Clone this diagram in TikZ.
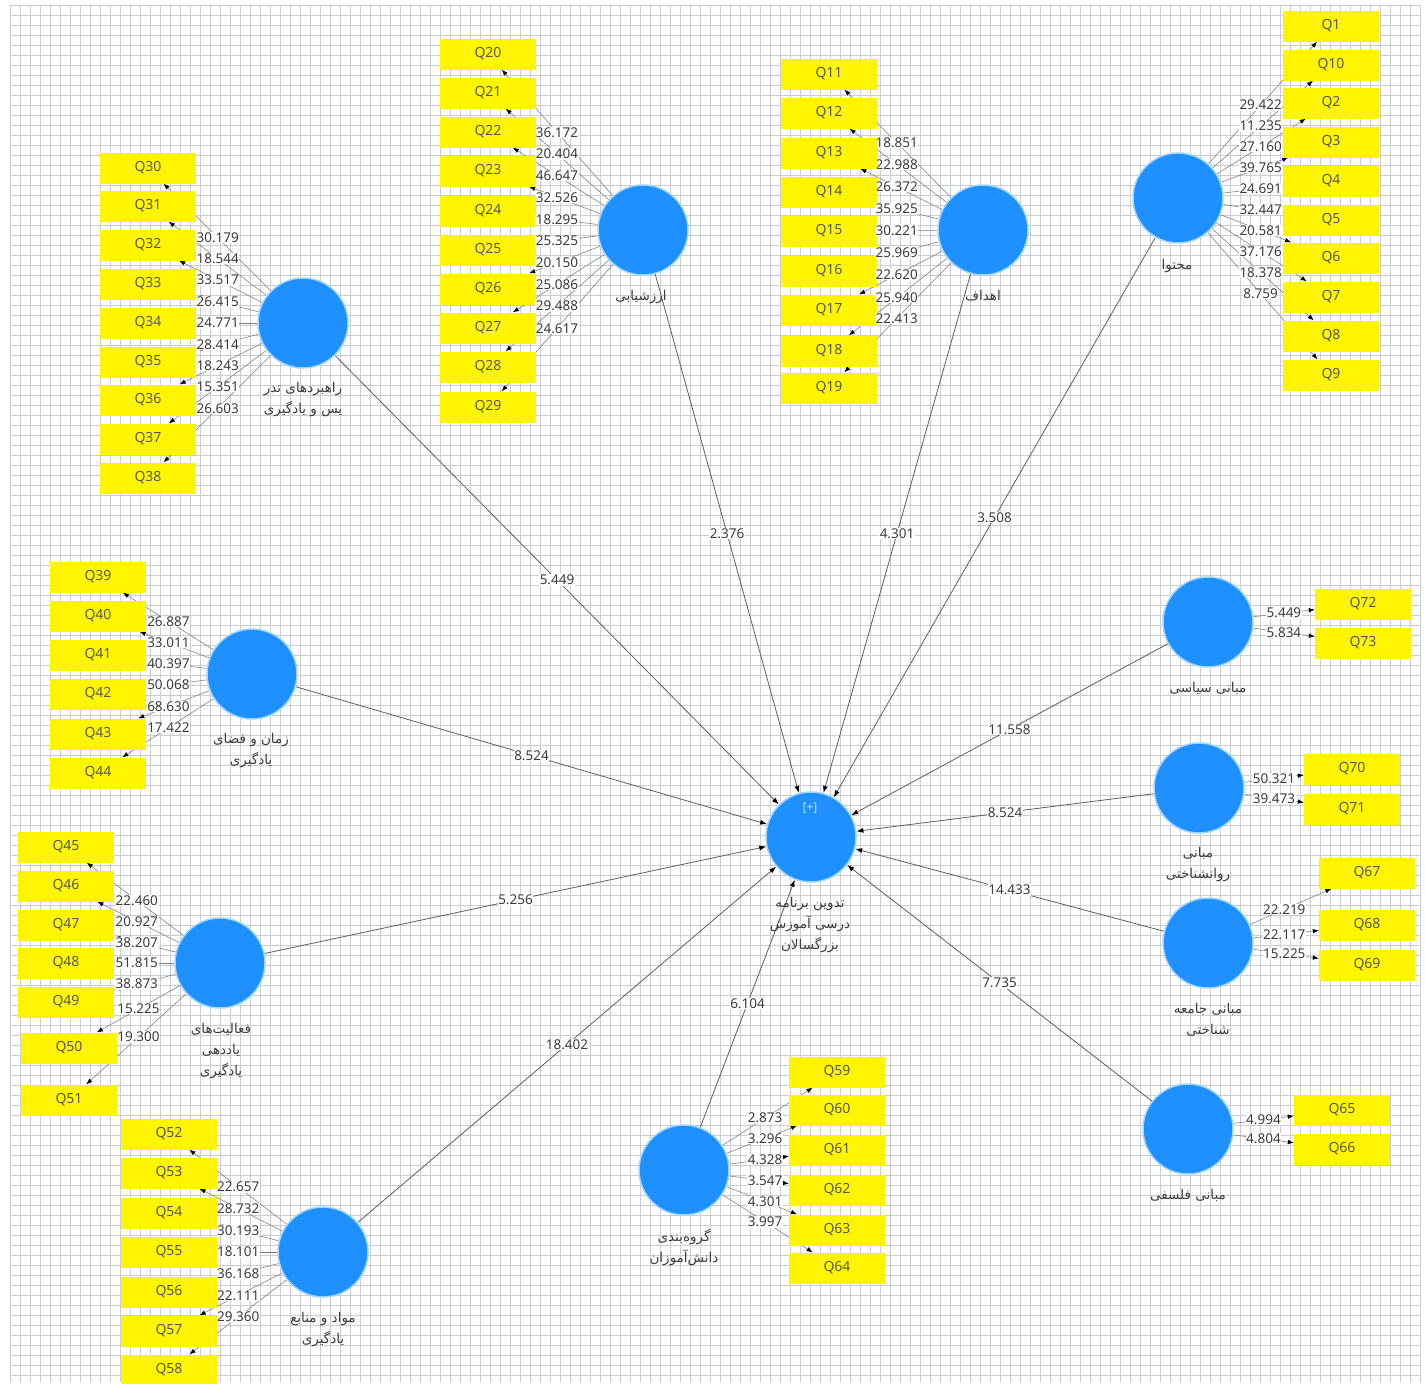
\documentclass[tikz,border=0pt]{standalone}
\usepackage{fontspec}
\setmainfont{Noto Sans}
\newfontfamily\fa[Script=Arabic]{DejaVu Sans}
\TeXXeTstate=1
\usetikzlibrary{arrows.meta,calc}
\definecolor{plsblue}{RGB}{30,144,255}
\definecolor{plsring}{RGB}{160,215,255}
\definecolor{indyellow}{RGB}{255,245,0}
\definecolor{gridgray}{RGB}{204,204,212}
\definecolor{edgegray}{RGB}{95,95,95}
\definecolor{outergray}{RGB}{125,125,125}
\definecolor{txtgray}{RGB}{60,60,60}
\newcommand{\rl}[1]{\beginR #1\endR}
\pgfdeclarelayer{gridlayer}
\pgfdeclarelayer{edgelayer}
\pgfsetlayers{gridlayer,edgelayer,main}
\begin{document}
\begin{tikzpicture}[x=1pt,y=-1pt,
  construct/.style={circle,fill=plsblue,draw=plsring,line width=1.5pt,minimum size=90pt,inner sep=0pt},
  ind/.style={rectangle,fill=indyellow,minimum width=96pt,minimum height=31pt,inner sep=0pt,text=black!65,font=\fontsize{14}{16}\selectfont},
  clabel/.style={align=center,text=txtgray,inner sep=0pt,font=\fa\fontsize{13.5}{21}\selectfont},
  tval/.style={fill=white,inner sep=0.6pt,text=txtgray,font=\fontsize{13.5}{15}\selectfont},
  outer/.style={draw=outergray,line width=0.55pt,-{Latex[length=6pt,width=4.5pt,color=black]}},
  inner/.style={draw=edgegray,line width=0.8pt,-{Latex[length=7pt,width=5pt,color=black]}},
]
\useasboundingbox (0,0) rectangle (1425,1384);

% background and grid
\begin{pgfonlayer}{gridlayer}
\fill[white] (0,0) rectangle (1425,1384);
\foreach \gx in {10,20,...,1420} \draw[gridgray,line width=0.5pt] (\gx,5) -- (\gx,1382);
\foreach \gy in {5,15,...,1375} \draw[gridgray,line width=0.5pt] (10,\gy) -- (1420,\gy);
\end{pgfonlayer}

% latent variables
\node[construct] (cur) at (811,837) {};
\node[text=white!75!plsblue,font=\fontsize{12}{13}\selectfont] (plus) at (810,808) {[+]};
\node[construct] (arz) at (643,230) {};
\node[construct] (ahd) at (983,230) {};
\node[construct] (moh) at (1178,198) {};
\node[construct] (rah) at (303,323) {};
\node[construct] (zam) at (252,674) {};
\node[construct] (fad) at (220,963) {};
\node[construct] (mav) at (323,1252) {};
\node[construct] (gor) at (684,1170) {};
\node[construct] (sia) at (1208,622) {};
\node[construct] (rav) at (1199,788) {};
\node[construct] (jam) at (1208,943) {};
\node[construct] (fal) at (1188,1129) {};

% latent variable names
\node[clabel] (l-cur) at (810,925) {\rl{تدوین برنامه}\\\rl{درسی آموزش}\\\rl{بزرگسالان}};
\node[clabel] (l-arz) at (641,297) {\rl{ارزشیابی}};
\node[clabel] (l-ahd) at (983,296) {\rl{اهداف}};
\node[clabel] (l-moh) at (1177,266) {\rl{محتوا}};
\node[clabel] (l-rah) at (303,400) {\rl{راهبردهای تدر}\\\rl{یس و یادگیری}};
\node[clabel] (l-zam) at (251,751) {\rl{زمان و فضای}\\\rl{یادگیری}};
\node[clabel] (l-fad) at (221,1051) {\rl{فعالیت‌های}\\\rl{یاددهی}\\\rl{یادگیری}};
\node[clabel] (l-mav) at (323,1330) {\rl{مواد و منابع}\\\rl{یادگیری}};
\node[clabel] (l-gor) at (684,1248) {\rl{گروه‌بندی}\\\rl{دانش‌آموزان}};
\node[clabel] (l-sia) at (1208,688) {\rl{مبانی سیاسی}};
\node[clabel] (l-rav) at (1198,865) {\rl{مبانی}\\\rl{روانشناختی}};
\node[clabel] (l-jam) at (1208,1020) {\rl{مبانی جامعه}\\\rl{شناختی}};
\node[clabel] (l-fal) at (1188,1195) {\rl{مبانی فلسفی}};

% structural paths
\begin{pgfonlayer}{edgelayer}
\draw[inner] (arz) -- node[tval]{2.376} (cur);
\draw[inner] (ahd) -- node[tval]{4.301} (cur);
\draw[inner] (moh) -- node[tval]{3.508} (cur);
\draw[inner] (rah) -- node[tval]{5.449} (cur);
\draw[inner] (zam) -- node[tval]{8.524} (cur);
\draw[inner] (fad) -- node[tval]{5.256} (cur);
\draw[inner] (mav) -- node[tval]{18.402} (cur);
\draw[inner] (gor) -- node[tval]{6.104} (cur);
\draw[inner] (sia) -- node[tval]{11.558} (cur);
\draw[inner] (rav) -- node[tval]{8.524} (cur);
\draw[inner] (jam) -- node[tval]{14.433} (cur);
\draw[inner] (fal) -- node[tval]{7.735} (cur);
\end{pgfonlayer}

% indicators with their loadings
\foreach \q/\y/\v in {20/54/36.172,21/93/20.404,22/132/46.647,23/171/32.526,24/211/18.295,25/250/25.325,26/289/20.150,27/328/25.086,28/367/29.488,29/407/24.617}{
  \node[ind] (q\q) at (488,\y) {Q\q};
  \begin{pgfonlayer}{edgelayer}\draw[outer] (arz) -- (q\q);\end{pgfonlayer}
  \node[tval] at ($(q\q)!0.445!(arz)$) {\v};
}
\foreach \q/\y/\v in {11/74/18.851,12/113/22.988,13/153/26.372,14/192/35.925,15/231/30.221,16/271/25.969,17/310/22.620,18/351/25.940,19/388/22.413}{
  \node[ind] (q\q) at (829,\y) {Q\q};
  \begin{pgfonlayer}{edgelayer}\draw[outer] (ahd) -- (q\q);\end{pgfonlayer}
  \node[tval] at ($(q\q)!0.44!(ahd)$) {\v};
}
\foreach \q/\y/\v in {1/26/29.422,10/65/11.235,2/103/27.160,3/142/39.765,4/181/24.691,5/220/32.447,6/258/20.581,7/297/37.176,8/336/18.378,9/375/8.759}{
  \node[ind] (q\q) at (1331,\y) {Q\q};
  \begin{pgfonlayer}{edgelayer}\draw[outer] (moh) -- (q\q);\end{pgfonlayer}
  \node[tval] at ($(q\q)!0.46!(moh)$) {\v};
}
\foreach \q/\y/\v in {30/168/30.179,31/206/18.544,32/245/33.517,33/284/26.415,34/323/24.771,35/362/28.414,36/400/18.243,37/439/15.351,38/478/26.603}{
  \node[ind] (q\q) at (148,\y) {Q\q};
  \begin{pgfonlayer}{edgelayer}\draw[outer] (rah) -- (q\q);\end{pgfonlayer}
  \node[tval] at ($(q\q)!0.45!(rah)$) {\v};
}
\foreach \q/\y/\v in {39/577/26.887,40/616/33.011,41/655/40.397,42/694/50.068,43/734/68.630,44/773/17.422}{
  \node[ind] (q\q) at (98,\y) {Q\q};
  \begin{pgfonlayer}{edgelayer}\draw[outer] (zam) -- (q\q);\end{pgfonlayer}
  \node[tval] at ($(q\q)!0.457!(zam)$) {\v};
}
\foreach \q/\x/\y/\v in {45/66/847/22.460,46/66/886/20.927,47/66/925/38.207,48/66/963/51.815,49/66/1002/38.873,50/69/1048/15.225,51/69/1100/19.300}{
  \node[ind] (q\q) at (\x,\y) {Q\q};
  \begin{pgfonlayer}{edgelayer}\draw[outer] (fad) -- (q\q);\end{pgfonlayer}
  \node[tval] at ($(q\q)!0.46!(fad)$) {\v};
}
\foreach \q/\y/\v in {52/1134/22.657,53/1173/28.732,54/1213/30.193,55/1252/18.101,56/1292/36.168,57/1331/22.111,58/1370/29.360}{
  \node[ind] (q\q) at (169,\y) {Q\q};
  \begin{pgfonlayer}{edgelayer}\draw[outer] (mav) -- (q\q);\end{pgfonlayer}
  \node[tval] at ($(q\q)!0.45!(mav)$) {\v};
}
\foreach \q/\y/\v in {59/1072/2.873,60/1110/3.296,61/1150/4.328,62/1190/3.547,63/1230/4.301,64/1268/3.997}{
  \node[ind] (q\q) at (837,\y) {Q\q};
  \begin{pgfonlayer}{edgelayer}\draw[outer] (gor) -- (q\q);\end{pgfonlayer}
  \node[tval] at ($(q\q)!0.47!(gor)$) {\v};
}
\foreach \q/\y/\v in {72/604/5.449,73/643/5.834}{
  \node[ind] (q\q) at (1363,\y) {Q\q};
  \begin{pgfonlayer}{edgelayer}\draw[outer] (sia) -- (q\q);\end{pgfonlayer}
  \node[tval] at ($(q\q)!0.51!(sia)$) {\v};
}
\foreach \q/\y/\v in {70/769/50.321,71/809/39.473}{
  \node[ind] (q\q) at (1352,\y) {Q\q};
  \begin{pgfonlayer}{edgelayer}\draw[outer] (rav) -- (q\q);\end{pgfonlayer}
  \node[tval] at ($(q\q)!0.51!(rav)$) {\v};
}
\foreach \q/\y/\v in {67/873/22.219,68/925/22.117,69/965/15.225}{
  \node[ind] (q\q) at (1367,\y) {Q\q};
  \begin{pgfonlayer}{edgelayer}\draw[outer] (jam) -- (q\q);\end{pgfonlayer}
  \node[tval] at ($(q\q)!0.52!(jam)$) {\v};
}
\foreach \q/\y/\v in {65/1110/4.994,66/1149/4.804}{
  \node[ind] (q\q) at (1342,\y) {Q\q};
  \begin{pgfonlayer}{edgelayer}\draw[outer] (fal) -- (q\q);\end{pgfonlayer}
  \node[tval] at ($(q\q)!0.51!(fal)$) {\v};
}
\end{tikzpicture}
\end{document}
